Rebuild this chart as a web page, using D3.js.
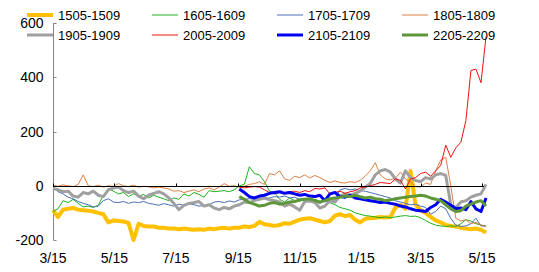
<!DOCTYPE html>
<html>
<head>
<meta charset="utf-8">
<script src="https://cdn.jsdelivr.net/npm/d3@7"></script>
<style>
  body { margin: 0; background: #fff; }
  svg { display: block; font-family: "Liberation Sans", Arial, sans-serif; }
</style>
</head>
<body>
<div id="chart"></div>
<script>
// x categories: one point every 5 days starting 3/15
var startDate = new Date(2014, 2, 15);
var stepDays = 5;
var tickDates = [new Date(2014,2,15), new Date(2014,4,15), new Date(2014,6,15), new Date(2014,8,15),
                 new Date(2014,10,15), new Date(2015,0,15), new Date(2015,2,15), new Date(2015,4,15)];
var yTicks = [-200, 0, 200, 400, 600];

var s1505 = [-90,-115,-88,-85,-82,-88,-90,-92,-95,-100,-105,-135,-128,-130,-132,-137,-200,-140,-148,-150,
             -150,-155,-155,-158,-158,-160,-158,-160,-162,-160,-162,-158,-160,-157,-155,-158,-155,-155,-150,-152,
             -148,-133,-142,-145,-148,-145,-138,-140,-132,-125,-122,-120,-125,-130,-135,-130,-110,-105,-112,-108,
             -125,-135,-122,-120,-118,-115,-117,-115,-80,-70,-85,55,-70,-90,-100,-115,-128,-135,-145,-148,
             -150,-155,-158,-160,-158,-162,-172];
var s1605 = [-95,-85,-55,-62,-50,-65,-78,-75,-80,-72,-35,-10,-20,-30,-25,-40,-30,-38,-32,-45,
             -35,-42,-48,-55,-45,-50,-30,-38,-25,-32,-42,-18,-22,-20,-18,-22,-15,0,5,70,
             45,40,15,-20,-25,-50,-60,-45,-55,-58,-48,-55,-50,-58,-52,-62,-70,-80,-85,-90,
             -100,-105,-110,-112,-115,-118,-115,-118,-115,-112,-110,-113,-112,-118,-128,-138,-145,-148,-150,-148,
             -150,-140,-125,-130,-140,-145,-148];
var s1705 = [-5,-22,-30,-42,-48,-58,-65,-70,-78,-75,-55,-48,-60,-62,-58,-65,-60,-62,-58,-65,
             -68,-72,-66,-70,-75,-68,-72,-66,-70,-75,-73,-70,-60,-58,-62,-56,-60,-52,-50,-48,
             -50,-45,-48,-45,-40,-42,-38,-45,-42,-50,-55,-60,-58,-65,-55,-60,-52,-15,-10,-15,
             -12,-18,-20,-25,-30,-35,-40,-45,-55,-60,-65,-70,-68,-75,-80,-105,-95,-75,-85,-120,
             -145,-150,-148,-140,-120,-148,-150];
var s1805 = [2,-2,3,0,-3,5,40,0,-3,2,-5,0,-2,8,0,-3,2,-5,-2,-4,
             -8,-5,-8,-12,-20,-18,-25,-20,-15,-22,-12,-8,-15,-5,8,-2,0,-5,-2,5,
             8,15,5,45,40,55,25,20,35,30,40,28,38,30,20,12,18,12,10,15,
             12,20,35,55,85,40,25,22,28,50,25,15,-3,-5,10,5,55,95,105,0,
             -120,-130,-125,-140,-135,-145,-150];
var s1905 = [-10,-15,-22,-20,-38,-42,-25,-30,-20,-35,-40,-15,-8,-5,-18,-25,-20,-38,-48,-35,
             -28,-22,-30,-45,-65,-88,-72,-65,-62,-58,-75,-70,-82,-88,-80,-85,-75,-70,-60,-62,
             -55,-50,-45,-52,-55,-60,-75,-68,-78,-90,-58,-55,-62,-82,-75,-55,-60,-38,-30,-35,
             -28,-20,-5,8,40,55,60,50,25,10,55,30,20,15,30,25,40,45,38,-70,
             -80,-60,-55,-42,-35,-30,5];
// the last three series begin at point 37 (around 9/15)
var s2005 = [-5,-8,-5,-3,-5,-15,-25,-30,-25,-28,-22,-20,-25,-18,-22,-10,-12,-8,-30,-25,
             -20,-28,-22,-18,-8,-5,0,5,12,10,8,25,20,-12,25,30,45,50,35,55,
             75,150,105,140,160,240,425,430,380,550];
var s2105 = [-12,-25,-40,-45,-38,-35,-28,-25,-22,-28,-25,-30,-35,-32,-38,-40,-35,-55,-30,-25,
             -40,-42,-35,-45,-48,-52,-55,-58,-62,-60,-65,-68,-75,-78,-85,-90,-92,-95,-80,-70,
             -50,-60,-72,-85,-82,-88,-58,-85,-95,-45];
var s2205 = [-40,-50,-62,-68,-75,-72,-65,-62,-68,-65,-60,-58,-52,-50,-48,-55,-60,-55,-48,-45,
             -42,-38,-40,-35,-40,-45,-42,-48,-50,-55,-52,-48,-45,-42,-40,-38,-35,-38,-45,-50,
             -55,-70,-85,-95,-92,-75,-68,-60,-55,-75];

var series = [
    {name: "1505-1509", values: s1505, start: 0,  color: "#FFC000", width: 4},
    {name: "1605-1609", values: s1605, start: 0,  color: "#1DB31D", width: 1},
    {name: "1705-1709", values: s1705, start: 0,  color: "#4A6FB5", width: 1},
    {name: "1805-1809", values: s1805, start: 0,  color: "#DE7F45", width: 1},
    {name: "1905-1909", values: s1905, start: 0,  color: "#A0A0A0", width: 3},
    {name: "2005-2009", values: s2005, start: 37, color: "#EE1111", width: 1},
    {name: "2105-2109", values: s2105, start: 37, color: "#0000F0", width: 3},
    {name: "2205-2209", values: s2205, start: 37, color: "#5E973A", width: 3}
];

var W = 539, H = 272;
var svg = d3.select("#chart").append("svg")
    .attr("width", W)
    .attr("height", H);

var x = d3.scaleTime().domain([tickDates[0], tickDates[tickDates.length-1]]).range([53, 482]);
var y = d3.scaleLinear().domain([-200, 600]).range([240, 23]);

function pointDate(i){
    return d3.timeDay.offset(startDate, i*stepDays);
}

// y axis
var yAxis = svg.append("g").attr("transform", "translate(53.5,0)");
yAxis.append("line")
    .attr("x1", 0).attr("x2", 0)
    .attr("y1", y(600)).attr("y2", y(-200))
    .attr("stroke", "#868686");
yAxis.selectAll("line.tick").data(yTicks).enter().append("line")
    .attr("class", "tick")
    .attr("x1", 0).attr("x2", 3)
    .attr("y1", function(d){ return Math.round(y(d)) + 0.5; })
    .attr("y2", function(d){ return Math.round(y(d)) + 0.5; })
    .attr("stroke", "#868686");
yAxis.selectAll("text").data(yTicks).enter().append("text")
    .attr("x", -10)
    .attr("y", function(d){ return y(d); })
    .attr("dy", "0.36em")
    .attr("text-anchor", "end")
    .attr("font-size", 14)
    .attr("fill", "#000")
    .text(function(d){ return d; });

// series lines
var line = d3.line()
    .x(function(d){ return x(d[0]); })
    .y(function(d){ return y(d[1]); });

svg.append("g").selectAll("path").data(series).enter().append("path")
    .attr("d", function(s){
        return line(s.values.map(function(v, i){ return [pointDate(s.start + i), v]; }));
    })
    .attr("fill", "none")
    .attr("stroke", function(s){ return s.color; })
    .attr("stroke-width", function(s){ return s.width; })
    .attr("stroke-linejoin", "round");

// x axis on the zero line
var xAxis = svg.append("g").attr("transform", "translate(0," + (Math.round(y(0)) + 0.5) + ")");
xAxis.append("line")
    .attr("x1", 53).attr("x2", 484)
    .attr("stroke", "#000");
xAxis.selectAll("line.tick").data(tickDates).enter().append("line")
    .attr("class", "tick")
    .attr("x1", function(d){ return Math.round(x(d)) + 0.5; })
    .attr("x2", function(d){ return Math.round(x(d)) + 0.5; })
    .attr("y1", 0).attr("y2", -3)
    .attr("stroke", "#000");

svg.append("g").selectAll("text").data(tickDates).enter().append("text")
    .attr("x", function(d){ return x(d); })
    .attr("y", 258)
    .attr("dy", "0.36em")
    .attr("text-anchor", "middle")
    .attr("font-size", 14)
    .attr("fill", "#000")
    .text(d3.timeFormat("%-m/%-d"));

// legend, 2 rows x 4 columns
var legendTextX = [58, 183, 308, 433];
var legendRowY = [15, 35];
var legend = svg.append("g").selectAll("g").data(series).enter().append("g")
    .attr("transform", function(s, i){
        return "translate(" + legendTextX[i % 4] + "," + legendRowY[Math.floor(i / 4)] + ")";
    });
legend.append("line")
    .attr("x1", -31).attr("x2", -5)
    .attr("y1", 0).attr("y2", 0)
    .attr("stroke", function(s){ return s.color; })
    .attr("stroke-width", function(s){ return s.width; });
legend.append("text")
    .attr("x", 0)
    .attr("dy", "0.36em")
    .attr("font-size", 13)
    .attr("fill", "#000")
    .text(function(s){ return s.name; });
</script>
</body>
</html>
